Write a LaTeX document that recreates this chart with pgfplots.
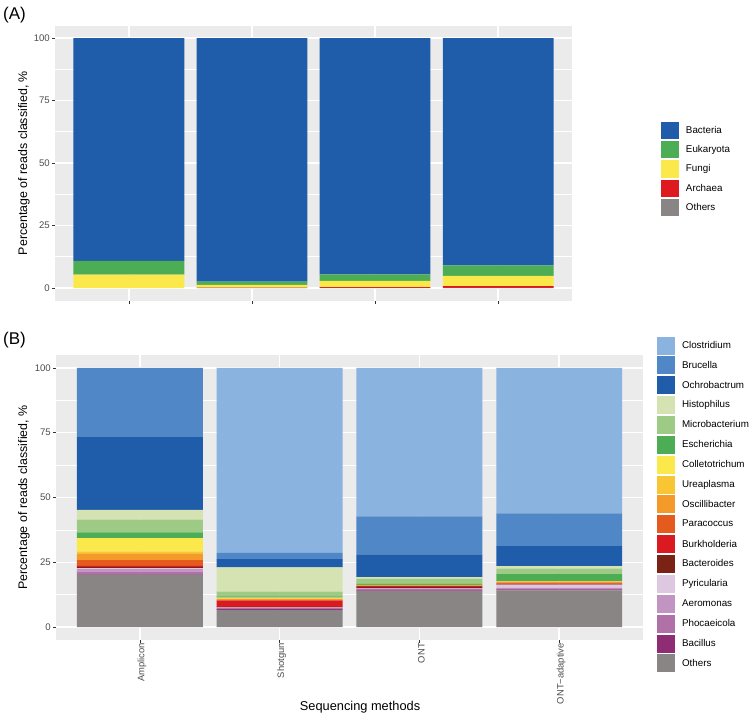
\documentclass[border=0pt]{standalone}
\usepackage{fontspec}
\setmainfont{Liberation Sans}
\usepackage{pgfplots}
\usepackage{pgfplotstable}
\pgfplotsset{compat=1.18}

\definecolor{panelbg}{HTML}{EBEBEB}
\definecolor{ticklab}{HTML}{4D4D4D}
\definecolor{tickc}{HTML}{333333}
\definecolor{kBacteria}{HTML}{1F5CA9}
\definecolor{kEukaryota}{HTML}{4DAD54}
\definecolor{kFungi}{HTML}{FBE84A}
\definecolor{kArchaea}{HTML}{DE1A20}
\definecolor{kOthers}{HTML}{8A8585}
\definecolor{gClostridium}{HTML}{8AB3E0}
\definecolor{gBrucella}{HTML}{5087C7}
\definecolor{gOchrobactrum}{HTML}{1F5CA9}
\definecolor{gHistophilus}{HTML}{D4E3B1}
\definecolor{gMicrobacterium}{HTML}{9DCB85}
\definecolor{gEscherichia}{HTML}{4DAD54}
\definecolor{gColletotrichum}{HTML}{FBE84A}
\definecolor{gUreaplasma}{HTML}{F8C533}
\definecolor{gOscillibacter}{HTML}{F39A2B}
\definecolor{gParacoccus}{HTML}{E45B1D}
\definecolor{gBurkholderia}{HTML}{DA1921}
\definecolor{gBacteroides}{HTML}{7A2315}
\definecolor{gPyricularia}{HTML}{DEC7E1}
\definecolor{gAeromonas}{HTML}{C294C2}
\definecolor{gPhocaeicola}{HTML}{B070A8}
\definecolor{gBacillus}{HTML}{8E2C74}
\definecolor{gOthers}{HTML}{8A8585}

\pgfplotstableread{
x Others Archaea Fungi Eukaryota Bacteria
0 0.0 0.0 5.4 5.5 89.1
1 0.1 0.1 1.1 1.3 97.4
2 0.1 0.3 2.5 2.6 94.5
3 0.1 0.7 4.1 4.2 90.9
}\tabA

\pgfplotstableread{
x Others Bacillus Phocaeicola Aeromonas Pyricularia Bacteroides Burkholderia Paracoccus Oscillibacter Ureaplasma Colletotrichum Escherichia Microbacterium Histophilus Ochrobactrum Brucella Clostridium
0 20.2 0.2 1.0 1.0 0.3 0.4 0.5 2.2 2.4 0.9 5.2 2.2 5.0 3.7 28.1 26.7 0.0
1 6.6 0.5 0.3 0.1 0.1 0.2 2.4 0.2 0.4 0.3 0.3 0.4 1.9 9.3 3.2 2.4 71.4
2 13.9 0.3 0.4 0.3 0.1 0.4 0.4 0.2 0.1 0.1 0.1 0.4 1.9 0.7 8.8 14.6 57.3
3 14.2 0.3 0.4 0.2 1.3 0.2 0.2 0.2 0.4 0.2 0.1 2.7 2.2 0.9 7.7 12.7 56.1
}\tabB

\pgfplotsset{
  ggbase/.style={
    scale only axis,
    ybar stacked, bar width=0.9,
    xmin=-0.6, xmax=3.6, ymin=-5, ymax=105,
    axis background/.style={fill=panelbg},
    axis line style={draw=none},
    xtick={0,1,2,3}, ytick={0,25,50,75,100},
    minor ytick={12.5,37.5,62.5,87.5},
    xmajorgrids, ymajorgrids, yminorgrids,
    major grid style={white, line width=1.4pt},
    minor grid style={white, line width=0.7pt},
    tick align=outside, major tick length=3pt, minor tick length=0pt,
    tick pos=left,
    tick style={color=tickc, line width=0.6pt},
    /pgf/number format/assume math mode=true,
    yticklabels={0,25,50,75,100},
    yticklabel style={font=\fontsize{9.6}{11}\selectfont, text=ticklab, inner sep=0pt, xshift=-2pt},
    ylabel={Percentage of reads classified, \%},
    ylabel style={font=\fontsize{12.4}{14}\selectfont, anchor=center},
    reverse legend,
    legend cell align=left,
    legend style={draw=none, fill=none, inner sep=0pt, outer sep=0pt,
      font=\fontsize{9.8}{11}\selectfont, anchor=north west,
      nodes={inner sep=0pt},
      /tikz/every odd column/.append style={column sep=7pt}},
  }
}

\begin{document}
\begin{tikzpicture}
\path[use as bounding box] (0pt,0pt) rectangle (755pt,-721pt);

% Panel A
\begin{axis}[ggbase,
  at={(55pt,-25.5pt)}, anchor=north west,
  width=517pt, height=275pt,
  xticklabels={,,,},
  ylabel style={at={(axis description cs:-0.0600,0.5)}},
  legend image code/.code={\fill[#1] (0pt,-8.7pt) rectangle (18pt,8.7pt);},
  legend style={at={(axis description cs:1.1721,0.650)}, row sep=1.85pt},
]
\addplot[fill=kOthers, draw=none] table[x=x, y=Others] {\tabA}; \addlegendentry{Others}
\addplot[fill=kArchaea, draw=none] table[x=x, y=Archaea] {\tabA}; \addlegendentry{Archaea}
\addplot[fill=kFungi, draw=none] table[x=x, y=Fungi] {\tabA}; \addlegendentry{Fungi}
\addplot[fill=kEukaryota, draw=none] table[x=x, y=Eukaryota] {\tabA}; \addlegendentry{Eukaryota}
\addplot[fill=kBacteria, draw=none] table[x=x, y=Bacteria] {\tabA}; \addlegendentry{Bacteria}
\node[anchor=base west, font=\fontsize{12.3}{14}\selectfont, inner sep=0pt] at (axis description cs:1.1721,0.671) {Kingdom};
\end{axis}

% Panel B
\begin{axis}[ggbase,
  at={(56pt,-355pt)}, anchor=north west,
  width=587pt, height=285pt,
  xticklabels={Amplicon,Shotgun,ONT,ONT−adaptive},
  xticklabel style={rotate=90, anchor=east, font=\fontsize{9.4}{11}\selectfont, text=ticklab, inner sep=0pt, yshift=-2pt},
  xlabel={Sequencing methods},
  xlabel style={font=\fontsize{12.8}{15}\selectfont, at={(axis description cs:0.518,-0.2475)}, anchor=base},
  ylabel style={at={(axis description cs:-0.0545,0.5)}},
  legend image code/.code={\fill[#1] (0pt,-9pt) rectangle (18pt,9pt);},
  legend style={at={(axis description cs:1.0239,1.0646)}, row sep=1.86pt},
]
\addplot[fill=gOthers, draw=none] table[x=x, y=Others] {\tabB}; \addlegendentry{Others}
\addplot[fill=gBacillus, draw=none] table[x=x, y=Bacillus] {\tabB}; \addlegendentry{Bacillus}
\addplot[fill=gPhocaeicola, draw=none] table[x=x, y=Phocaeicola] {\tabB}; \addlegendentry{Phocaeicola}
\addplot[fill=gAeromonas, draw=none] table[x=x, y=Aeromonas] {\tabB}; \addlegendentry{Aeromonas}
\addplot[fill=gPyricularia, draw=none] table[x=x, y=Pyricularia] {\tabB}; \addlegendentry{Pyricularia}
\addplot[fill=gBacteroides, draw=none] table[x=x, y=Bacteroides] {\tabB}; \addlegendentry{Bacteroides}
\addplot[fill=gBurkholderia, draw=none] table[x=x, y=Burkholderia] {\tabB}; \addlegendentry{Burkholderia}
\addplot[fill=gParacoccus, draw=none] table[x=x, y=Paracoccus] {\tabB}; \addlegendentry{Paracoccus}
\addplot[fill=gOscillibacter, draw=none] table[x=x, y=Oscillibacter] {\tabB}; \addlegendentry{Oscillibacter}
\addplot[fill=gUreaplasma, draw=none] table[x=x, y=Ureaplasma] {\tabB}; \addlegendentry{Ureaplasma}
\addplot[fill=gColletotrichum, draw=none] table[x=x, y=Colletotrichum] {\tabB}; \addlegendentry{Colletotrichum}
\addplot[fill=gEscherichia, draw=none] table[x=x, y=Escherichia] {\tabB}; \addlegendentry{Escherichia}
\addplot[fill=gMicrobacterium, draw=none] table[x=x, y=Microbacterium] {\tabB}; \addlegendentry{Microbacterium}
\addplot[fill=gHistophilus, draw=none] table[x=x, y=Histophilus] {\tabB}; \addlegendentry{Histophilus}
\addplot[fill=gOchrobactrum, draw=none] table[x=x, y=Ochrobactrum] {\tabB}; \addlegendentry{Ochrobactrum}
\addplot[fill=gBrucella, draw=none] table[x=x, y=Brucella] {\tabB}; \addlegendentry{Brucella}
\addplot[fill=gClostridium, draw=none] table[x=x, y=Clostridium] {\tabB}; \addlegendentry{Clostridium}
\node[anchor=base west, font=\fontsize{12.3}{14}\selectfont, inner sep=0pt] at (axis description cs:1.0239,1.084) {Genus};
\end{axis}

\node[anchor=west, font=\fontsize{17}{19}\selectfont, inner sep=0pt] at (3pt,-15pt) {(A)};
\node[anchor=west, font=\fontsize{17}{19}\selectfont, inner sep=0pt] at (3pt,-340pt) {(B)};
\end{tikzpicture}
\end{document}
